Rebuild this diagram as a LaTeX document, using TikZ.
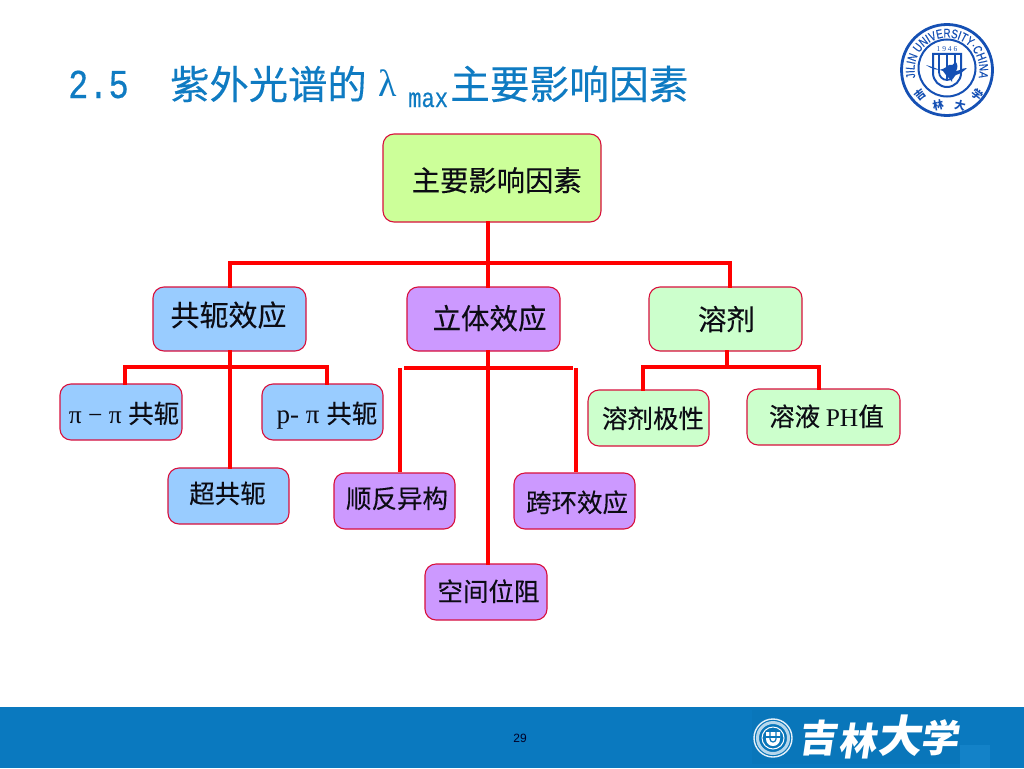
\documentclass[tikz,border=0pt]{standalone}
\usepackage{fontspec}
\usetikzlibrary{decorations.text}
\setmainfont[FakeBold=0.25]{Noto Sans CJK SC}
\newfontfamily\cjkf[FakeBold=0.25]{Noto Sans CJK SC}
\newfontfamily\markf{Noto Sans CJK SC}
\newfontfamily\serf{Liberation Serif}
\newfontfamily\monf[FakeStretch=0.82,FakeBold=0.4]{Liberation Mono}
\newfontfamily\armf{Liberation Sans}
\newfontfamily\sealf[FakeBold=0.5,FakeStretch=0.78]{Liberation Sans}
\definecolor{titleblue}{HTML}{0F7BC2}
\definecolor{bandblue}{HTML}{0A79BF}
\definecolor{bandlogo}{HTML}{0976BA}
\definecolor{bandpatch}{HTML}{1382C8}
\definecolor{sealblue}{HTML}{1550B4}
\definecolor{edgered}{HTML}{D8103C}
\definecolor{linkred}{HTML}{FF0000}
\definecolor{fgreen}{HTML}{CCFF99}
\definecolor{fblue}{HTML}{99CCFF}
\definecolor{fpurple}{HTML}{CC99FF}
\definecolor{fmint}{HTML}{CCFFCC}
\definecolor{inkdark}{HTML}{0C0C14}
\tikzset{
  boxnode/.style={draw=edgered,line width=1.1pt,rounded corners=11pt,inner sep=0pt,text=inkdark,anchor=center},
  link/.style={draw=linkred,line width=3.4pt,line cap=rect},
  barlink/.style={draw=linkred,line width=3.4pt},
  titletext/.style={text=titleblue,inner sep=0pt,anchor=base west},
}
\newcommand{\placed}[3]{\makebox[0pt][c]{\hspace*{#1pt}\raisebox{#2pt}[0pt][0pt]{#3}}}
\newcommand{\boxat}[7]{%
  \pgfmathsetmacro{\bw}{#4-#2}\pgfmathsetmacro{\bh}{#5-#3}%
  \pgfmathsetmacro{\bx}{(#2+#4)/2}\pgfmathsetmacro{\by}{(#3+#5)/2}%
  \node[boxnode,fill=#6,minimum width=\bw pt,minimum height=\bh pt] (#1) at (\bx,\by) {#7};}
\begin{document}
\begin{tikzpicture}[x=1pt,y=-1pt]
\useasboundingbox (0,0) rectangle (1024,768);
\fill[white] (0,0) rectangle (1024,768);
% bottom band
\fill[bandblue] (0,707) rectangle (1024,768);
\fill[bandlogo] (752,710) rectangle (960,764);
\fill[bandpatch] (960,745) rectangle (990,768);
\node[inner sep=0pt,text=black!85!blue] (pagenum) at (520,738) {\armf\fontsize{12}{14}\selectfont 29};
% title
\node[titletext] (t1) at (68,98) {\monf\fontsize{41}{43}\selectfont 2.5};
\node[titletext] (t2) at (170,99) {\cjkf\fontsize{39.3}{42}\selectfont 紫外光谱的};
\node[titletext] (t3) at (378,96) {\serf\fontsize{38}{40}\selectfont λ};
\node[titletext] (t4) at (408,107) {\monf\fontsize{27}{29}\selectfont max};
\node[titletext] (t5) at (450,99) {\cjkf\fontsize{39.7}{42}\selectfont 主要影响因素};
% top node
\boxat{top}{383}{134}{601}{222}{fgreen}{\placed{9.5}{-13}{\fontsize{28.3}{30}\selectfont 主要影响因素}}
% second level
\boxat{conj}{153}{287}{306}{351}{fblue}{\placed{-2}{-7}{\fontsize{29}{31}\selectfont 共轭效应}}
\boxat{ster}{407}{287}{560}{351}{fpurple}{\placed{12}{-10}{\fontsize{28.5}{31}\selectfont 立体效应}}
\boxat{solv}{649}{287}{802}{351}{fmint}{\placed{2}{-11}{\fontsize{28.5}{31}\selectfont 溶剂}}
% third level
\boxat{pipi}{60}{384}{182}{440}{fblue}{\placed{6}{-11}{\fontsize{25.5}{28}\selectfont{\serf π − π }共轭}}
\boxat{ppi}{262}{384}{383}{440}{fblue}{\placed{9}{-11}{\fontsize{25.5}{28}\selectfont{\serf\fontsize{27}{28}\selectfont p- π }共轭}}
\boxat{hyper}{168}{468}{289}{524}{fblue}{\placed{-2}{-7}{\fontsize{25.5}{28}\selectfont 超共轭}}
\boxat{cist}{334}{473}{455}{529}{fpurple}{\placed{5}{-7}{\fontsize{25.5}{28}\selectfont 顺反异构}}
\boxat{trans}{514}{473}{635}{529}{fpurple}{\placed{5}{-11}{\fontsize{25.5}{28}\selectfont 跨环效应}}
\boxat{steric}{425}{564}{547}{620}{fpurple}{\placed{5}{-9}{\fontsize{25.5}{28}\selectfont 空间位阻}}
\boxat{polar}{588}{390}{709}{446}{fmint}{\placed{9}{-10}{\fontsize{25.5}{28}\selectfont 溶剂极性}}
\boxat{ph}{747}{389}{900}{445}{fmint}{\placed{6}{-9}{\fontsize{25.5}{28}\selectfont 溶液 {\serf PH}值}}
% junctions
\coordinate (j0) at (488,263);
\coordinate (j0l) at (230,263);
\coordinate (j0m) at (488,263);
\coordinate (j0r) at (730,263);
\coordinate (j1) at (230,367);
\coordinate (j1l) at (125,367);
\coordinate (j1r) at (327,367);
\coordinate (j2l) at (404,368);
\coordinate (j2r) at (573,368);
\coordinate (j2vl) at (400,368);
\coordinate (j2vr) at (576,368);
\coordinate (j3) at (727,367);
\coordinate (j3l) at (643,367);
\coordinate (j3r) at (819,367);
% connectors
\draw[link] (top.south -| j0) -- (j0);
\draw[link] (j0l) -- (j0r);
\draw[link] (j0l) -- (conj.north -| j0l);
\draw[link] (j0m) -- (ster.north -| j0m);
\draw[link] (j0r) -- (solv.north -| j0r);
\draw[link] (conj.south -| j1) -- (hyper.north -| j1);
\draw[link] (j1l) -- (j1r);
\draw[link] (j1l) -- (pipi.north -| j1l);
\draw[link] (j1r) -- (ppi.north -| j1r);
\draw[link] (ster.south -| j0m) -- (steric.north -| j0m);
\draw[barlink] (j2l) -- (j2r);
\draw[barlink] (j2vl) -- (cist.north -| j2vl);
\draw[barlink] (j2vr) -- (trans.north -| j2vr);
\draw[link] (solv.south -| j3) -- (j3);
\draw[link] (j3l) -- (j3r);
\draw[link] (j3l) -- (polar.north -| j3l);
\draw[link] (j3r) -- (ph.north -| j3r);
% top-right seal
\begin{scope}[shift={(947,70)},y=1pt]
  \draw[sealblue,line width=2.8pt] (0,0) circle (45.5pt);
  \draw[sealblue,line width=2pt] (0,2) circle (28.5pt);
  \path[decorate,decoration={text along path,text align=center,
     text={|\sealf\fontsize{12.5}{14}\selectfont\color{sealblue}|JILIN UNIVERSITY·CHINA}}]
     (205:32.5pt) arc[start angle=205,end angle=-25,radius=32.5pt];
  \node[inner sep=0pt,text=sealblue] (yr) at (0,21) {\serf\fontsize{7.5}{8}\selectfont 1 9 4 6};
  % shield
  \draw[sealblue,line width=2pt] (-14,16) -- (-14,-3) arc[start angle=180,end angle=360,radius=14pt] -- (14,16) -- cycle;
  \draw[sealblue,line width=1.8pt] (-8,16) -- (-8,-2) arc[start angle=180,end angle=360,radius=8pt] -- (8,16);
  \draw[sealblue,line width=2.2pt] (0,16) -- (0,-10);
  % bird
  \fill[sealblue] (-21,5) .. controls (-14,3) and (-10,1) .. (-4,-1)
     .. controls (-1,-6) and (3,-8) .. (5,-12) .. controls (5,-7) and (7,-5) .. (9,-5)
     .. controls (13,-4) and (17,-1) .. (20,2) .. controls (15,2) and (12,-1) .. (9,-1)
     .. controls (11,2) and (11,6) .. (8,9) .. controls (7,5) and (4,4) .. (2,5)
     .. controls (-2,2) and (-8,-4) .. (-21,5) -- cycle;
  % lower characters
  \node[inner sep=0pt,text=sealblue,rotate=38] (s1) at (-27,-25) {\markf\bfseries\fontsize{11}{12}\selectfont 吉};
  \node[inner sep=0pt,text=sealblue,rotate=12] (s2) at (-9,-35) {\markf\bfseries\fontsize{11}{12}\selectfont 林};
  \node[inner sep=0pt,text=sealblue,rotate=-12] (s3) at (13,-36) {\markf\bfseries\fontsize{11}{12}\selectfont 大};
  \node[inner sep=0pt,text=sealblue,rotate=-38] (s4) at (30,-25) {\markf\bfseries\fontsize{11}{12}\selectfont 学};
\end{scope}
% bottom seal
\begin{scope}[shift={(773,738)},y=1pt]
  \draw[white!90!bandblue,line width=1.4pt] (0,0) circle (19pt);
  \draw[white!70!bandblue,line width=3pt] (0,0) circle (15.5pt);
  \draw[white,line width=1pt] (0,0) circle (11pt);
  \fill[white] (-7,6) -- (-7,-1) arc[start angle=180,end angle=360,radius=7pt] -- (7,6) -- cycle;
  \draw[bandlogo,line width=1.2pt] (-3,6) -- (-3,-1) arc[start angle=180,end angle=360,radius=3pt] -- (3,6);
  \draw[bandlogo,line width=1.2pt] (-7,1) -- (7,1);
\end{scope}
% bottom wordmark
\node[inner sep=0pt,text=white,xslant=0.15] (w1) at (820,738) {\markf\bfseries\fontsize{38}{40}\selectfont 吉};
\node[inner sep=0pt,text=white,xslant=0.15] (w2) at (860,741) {\markf\bfseries\fontsize{38}{40}\selectfont 林};
\node[inner sep=0pt,text=white,xslant=0.15] (w3) at (902,736) {\markf\bfseries\fontsize{44}{46}\selectfont 大};
\node[inner sep=0pt,text=white,xslant=0.15] (w4) at (942,738) {\markf\bfseries\fontsize{38}{40}\selectfont 学};
\end{tikzpicture}
\end{document}
